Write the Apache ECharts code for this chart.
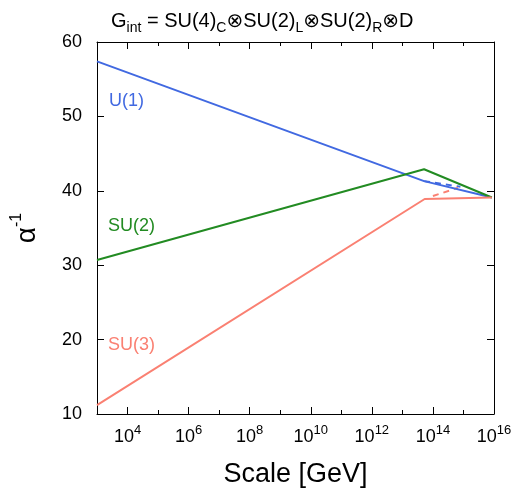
<!DOCTYPE html>
<html>
<head>
<meta charset="utf-8">
<script src="https://cdn.jsdelivr.net/npm/echarts@6/dist/echarts.min.js"></script>
<style>html,body{margin:0;padding:0;background:#fff}#c{width:516px;height:493px}</style>
</head>
<body>
<div id="c"></div>
<script>
// x values are log10(Scale / GeV)
const u1Log = [3, 13.71, 15.93];
const u1Val = [57.4, 41.3, 39.1];
const su2Log = [3, 13.71, 15.93];
const su2Val = [30.7, 42.9, 39.1];
const su3Log = [3, 13.73, 15.93];
const su3Val = [11.2, 38.9, 39.1];
const u1DashLog = [13.71, 14.9];
const u1DashVal = [41.3, 40.55];
const su3DashLog = [14.0, 14.82];
const su3DashVal = [39.3, 40.4];
const xLabelExps = [4, 6, 8, 10, 12, 14, 16];
const yTicks = [10, 20, 30, 40, 50, 60];

const FONT = "'Liberation Sans', Arial, 'DejaVu Sans', sans-serif";
const BLUE = '#4169e1', GREEN = '#228b22', SALMON = '#fa8072';

function pairs(xs, ys) { return xs.map((x, i) => [x, ys[i]]); }

const chart = echarts.init(document.getElementById('c'), null, {renderer: 'canvas'});

const baseX = {
  type: 'value', min: 3, max: 16, interval: 1,
  splitLine: {show: false},
  axisLine: {show: true, onZero: false, lineStyle: {color: '#000', width: 1}},
  axisTick: {show: true, inside: true, length: 4, lineStyle: {color: '#000'}},
  axisLabel: {show: false}
};
const majorX = {
  type: 'value', min: 3, max: 16, interval: 1,
  splitLine: {show: false},
  axisLine: {show: false, onZero: false},
  axisTick: {show: true, inside: true, length: 7, customValues: xLabelExps, lineStyle: {color: '#000'}},
  axisLabel: {show: false}
};
const baseY = {
  type: 'value', min: 10, max: 60, interval: 10,
  splitLine: {show: false},
  axisLine: {show: true, onZero: false, lineStyle: {color: '#000', width: 1}},
  axisTick: {show: true, inside: true, length: 7, customValues: yTicks, lineStyle: {color: '#000'}},
  axisLabel: {show: false}
};

const option = {
  animation: false,
  backgroundColor: '#fff',
  title: {
    text: '{n|G}{sub|int}{n| = SU(4)}{sub|C}{n|⊗SU(2)}{sub|L}{n|⊗SU(2)}{sub|R}{n|⊗D}',
    left: 106, top: 3,
    textStyle: {
      fontWeight: 'normal',
      rich: {
        n: {fontSize: 20, fontWeight: 'normal', fontFamily: FONT, color: '#000', lineHeight: 27, verticalAlign: 'middle'},
        sub: {fontSize: 14, fontWeight: 'normal', fontFamily: FONT, color: '#000', lineHeight: 27, verticalAlign: 'bottom'}
      }
    }
  },
  grid: {left: 97, right: 22, top: 42, bottom: 77, containLabel: false},
  xAxis: [
    Object.assign({}, baseX, {position: 'bottom'}),
    Object.assign({}, majorX, {
      position: 'bottom',
      axisLabel: {
        show: true, customValues: xLabelExps, margin: 10,
        formatter: v => '{b|10}{s|' + v + '}',
        rich: {
          b: {fontSize: 18, fontFamily: FONT, color: '#000', lineHeight: 22, verticalAlign: 'bottom'},
          s: {fontSize: 13, fontFamily: FONT, color: '#000', lineHeight: 22, verticalAlign: 'top'}
        }
      },
      name: 'Scale [GeV]', nameLocation: 'middle', nameGap: 47,
      nameTextStyle: {fontSize: 27, fontFamily: FONT, color: '#000'}
    }),
    Object.assign({}, baseX, {position: 'top'}),
    Object.assign({}, majorX, {position: 'top'})
  ],
  yAxis: [
    Object.assign({}, baseY, {
      position: 'left',
      axisLabel: {show: true, customValues: yTicks, margin: 15, fontSize: 18, fontFamily: FONT, color: '#000'},
      name: '{a|α}{s|-1}', nameLocation: 'middle', nameRotate: 90, nameGap: 56,
      nameTextStyle: {
        rich: {
          a: {fontSize: 28, fontFamily: FONT, color: '#000', lineHeight: 32, verticalAlign: 'bottom'},
          s: {fontSize: 16, fontFamily: FONT, color: '#000', lineHeight: 32, verticalAlign: 'top'}
        }
      }
    }),
    Object.assign({}, baseY, {position: 'right'})
  ],
  graphic: [
    {type: 'text', left: 109, top: 92, style: {text: 'U(1)', fill: BLUE, font: '18px ' + FONT}},
    {type: 'text', left: 108, top: 217, style: {text: 'SU(2)', fill: GREEN, font: '18px ' + FONT}},
    {type: 'text', left: 108, top: 336, style: {text: 'SU(3)', fill: SALMON, font: '18px ' + FONT}}
  ],
  series: [
    {type: 'line', name: 'U(1)', data: pairs(u1Log, u1Val), symbol: 'none', lineStyle: {color: BLUE, width: 2}, z: 3},
    {type: 'line', name: 'SU(2)', data: pairs(su2Log, su2Val), symbol: 'none', lineStyle: {color: GREEN, width: 2}, z: 3},
    {type: 'line', name: 'SU(3)', data: pairs(su3Log, su3Val), symbol: 'none', lineStyle: {color: SALMON, width: 2}, z: 3},
    {type: 'line', name: 'U(1) alt', data: pairs(u1DashLog, u1DashVal), symbol: 'none', lineStyle: {color: BLUE, width: 2, type: [6, 5]}, z: 2},
    {type: 'line', name: 'SU(3) alt', data: pairs(su3DashLog, su3DashVal), symbol: 'none', lineStyle: {color: SALMON, width: 2, type: [6, 5]}, z: 2}
  ]
};
chart.setOption(option);
</script>
</body>
</html>
